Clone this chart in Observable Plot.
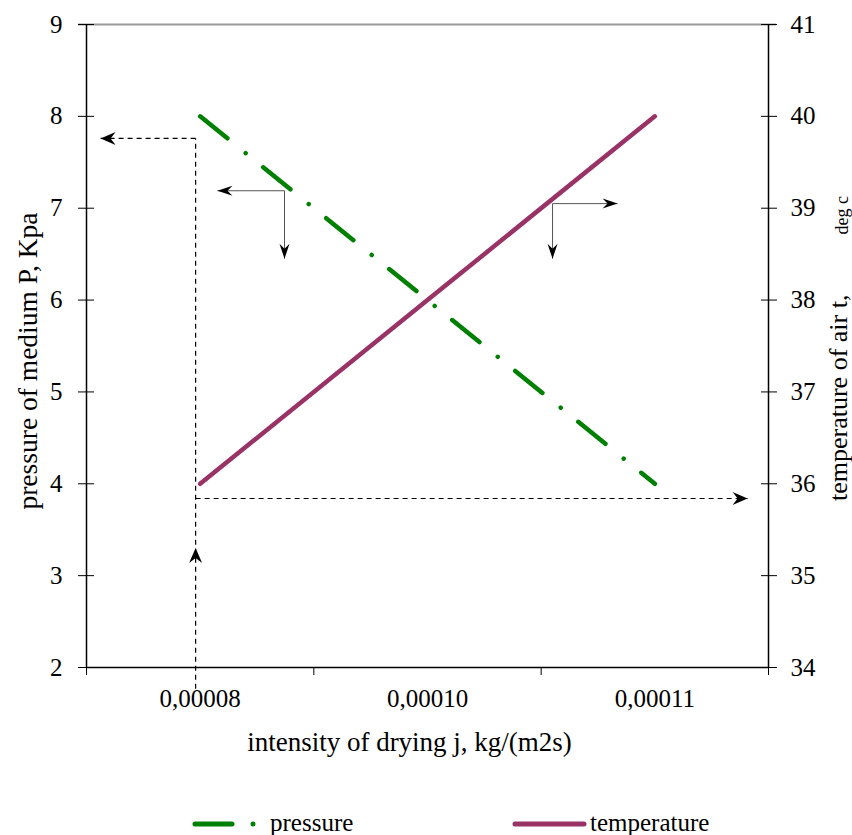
<!DOCTYPE html>
<html>
<head>
<meta charset="utf-8">
<script src="https://cdn.jsdelivr.net/npm/d3@7"></script>
<script src="https://cdn.jsdelivr.net/npm/@observablehq/plot@0.6"></script>
<style>
  body { margin: 0; background: #fff; }
  #wrap { position: relative; width: 852px; height: 835px; }
  #legend { position: absolute; left: 0; top: 805px; }
</style>
</head>
<body>
<div id="wrap"><div id="chart"></div><div id="legend"></div></div>
<script>
// ---- data ----
const categories = ["0,00008", "0,00010", "0,00011"];
const pressure = [8, 6, 4];          // kPa, left axis
const temperature = [36, 38, 40];    // deg C, right axis
const slots = [0.5, 1.5, 2.5];       // category centres on the x scale
const slotEdges = [0, 1, 2, 3];      // category boundaries (tick marks)
const leftTicks = [2, 3, 4, 5, 6, 7, 8, 9];
const rightTicks = [34, 35, 36, 37, 38, 39, 40, 41];

const xTitle = "intensity of drying j, kg/(m2s)";
const yLeftTitle = "pressure of medium P, Kpa";
const yRightTitle = "temperature of air t,";
const yRightUnit = "deg c";
const legendNames = ["pressure", "temperature"];

// annotation guides (data units)
const dashedGuides = [
  {x1: 0.48, y1: 1.77, x2: 0.48, y2: 7.76},
  {x1: 0.48, y1: 7.76, x2: 0.062, y2: 7.76},
  {x1: 0.48, y1: 3.84, x2: 2.908, y2: 3.84}
];
const dashedHeads = [
  {x: 0.48, y: 3.30, rot: 0},
  {x: 0.062, y: 7.76, rot: -90},
  {x: 2.908, y: 3.84, rot: 90}
];
const thinGuides = [
  {x1: 0.871, y1: 7.19, x2: 0.576, y2: 7.19},
  {x1: 0.871, y1: 7.19, x2: 0.871, y2: 6.45},
  {x1: 2.05, y1: 7.05, x2: 2.336, y2: 7.05},
  {x1: 2.05, y1: 7.05, x2: 2.05, y2: 6.45}
];
const thinHeads = [
  {x: 0.576, y: 7.19, rot: -90},
  {x: 0.871, y: 6.45, rot: 180},
  {x: 2.336, y: 7.05, rot: 90},
  {x: 2.05, y: 6.45, rot: 180}
];

// map temperature onto the left scale
const lMin = leftTicks[0], lMax = leftTicks[leftTicks.length - 1];
const rMin = rightTicks[0], rMax = rightTicks[rightTicks.length - 1];
const toLeft = t => lMin + (t - rMin) * (lMax - lMin) / (rMax - rMin);

const pData = categories.map((c, i) => ({x: slots[i], y: pressure[i]}));
const tData = categories.map((c, i) => ({x: slots[i], y: toLeft(temperature[i])}));

function stealth(len, half, notch) {
  return {draw(ctx) {
    ctx.moveTo(0, 0);
    ctx.lineTo(-half, len);
    ctx.lineTo(0, notch);
    ctx.lineTo(half, len);
    ctx.closePath();
  }};
}

const GREEN = "#008000";
const PURPLE = "#993366";
const FONT = "Liberation Serif";

const chart = Plot.plot({
  width: 852,
  height: 780,
  marginLeft: 86,
  marginRight: 84,
  marginTop: 24,
  marginBottom: 113,
  style: {fontFamily: FONT, fontSize: "25px", color: "#000", background: "#fff"},
  x: {domain: [slotEdges[0], slotEdges[slotEdges.length - 1]]},
  y: {domain: [lMin, lMax]},
  marks: [
    // frame
    Plot.ruleY([lMax], {stroke: "#999", strokeWidth: 2, insetLeft: -8, insetRight: -8}),
    Plot.ruleX([slotEdges[0]], {stroke: "#000", strokeWidth: 1.5}),
    Plot.ruleX([slotEdges[slotEdges.length - 1]], {stroke: "#000", strokeWidth: 1.5}),
    Plot.ruleY([lMin], {stroke: "#000", strokeWidth: 1.5}),
    // axes
    Plot.axisY(leftTicks, {anchor: "left", tickSize: 16, dx: 8, tickFormat: () => "", label: null}),
    Plot.axisY(leftTicks, {anchor: "left", tickSize: 0, tickPadding: 24, fontSize: 25, fontFamily: FONT, label: null,
      tickFormat: d => String(d)}),
    Plot.axisY(leftTicks, {anchor: "right", tickSize: 16, dx: -8, tickFormat: () => "", label: null}),
    Plot.axisY(leftTicks, {anchor: "right", tickSize: 0, tickPadding: 22, fontSize: 25, fontFamily: FONT, label: null,
      tickFormat: d => String(rightTicks[leftTicks.indexOf(d)])}),
    Plot.axisX(slotEdges, {anchor: "bottom", tickSize: 8, tickFormat: () => "", label: null}),
    Plot.axisX(slots, {anchor: "bottom", tickSize: 0, tickPadding: 22, fontSize: 25, fontFamily: FONT, label: null,
      tickFormat: d => categories[slots.indexOf(d)]}),
    // titles
    Plot.text([xTitle], {frameAnchor: "bottom", dy: 83, dx: -18, fontSize: 27, fontFamily: FONT}),
    Plot.text([yLeftTitle], {frameAnchor: "left", rotate: -90, textAnchor: "middle", dx: -58, dy: 15, fontSize: 27.5, fontFamily: FONT}),
    Plot.text([yRightTitle], {frameAnchor: "right", rotate: -90, textAnchor: "start", dx: 70, dy: 155, fontSize: 26, fontFamily: FONT}),
    Plot.text([yRightUnit], {frameAnchor: "right", rotate: -90, textAnchor: "end", dx: 74, dy: -150, fontSize: 18, fontFamily: FONT}),
    // guides
    Plot.link(dashedGuides, {x1: "x1", y1: "y1", x2: "x2", y2: "y2", stroke: "#000", strokeWidth: 1.2, strokeDasharray: "5,4"}),
    Plot.dot(dashedHeads, {x: "x", y: "y", rotate: "rot", symbol: stealth(15, 6.5, 10), fill: "#000", stroke: "none"}),
    Plot.link(thinGuides, {x1: "x1", y1: "y1", x2: "x2", y2: "y2", stroke: "#555", strokeWidth: 1}),
    Plot.dot(thinHeads, {x: "x", y: "y", rotate: "rot", symbol: stealth(15, 5, 10), fill: "#000", stroke: "none"}),
    // data lines
    Plot.line(pData, {x: "x", y: "y", stroke: GREEN, strokeWidth: 4.5, strokeLinecap: "round", strokeDasharray: "35,23.5,0.01,22.5"}),
    Plot.line(tData, {x: "x", y: "y", stroke: PURPLE, strokeWidth: 4.5, strokeLinecap: "round"})
  ]
});
document.getElementById("chart").appendChild(chart);

// legend
const lg = d3.select("#legend").append("svg").attr("width", 852).attr("height", 30);
lg.append("line").attr("x1", 195).attr("x2", 232).attr("y1", 19).attr("y2", 19)
  .attr("stroke", GREEN).attr("stroke-width", 5).attr("stroke-linecap", "round");
lg.append("circle").attr("cx", 253).attr("cy", 19).attr("r", 2.5).attr("fill", GREEN);
lg.append("text").attr("x", 270).attr("y", 26).attr("font-size", 25).attr("font-family", FONT).text(legendNames[0]);
lg.append("line").attr("x1", 515).attr("x2", 584).attr("y1", 19).attr("y2", 19)
  .attr("stroke", PURPLE).attr("stroke-width", 5).attr("stroke-linecap", "round");
lg.append("text").attr("x", 590).attr("y", 26).attr("font-size", 25).attr("font-family", FONT).text(legendNames[1]);
</script>
</body>
</html>
